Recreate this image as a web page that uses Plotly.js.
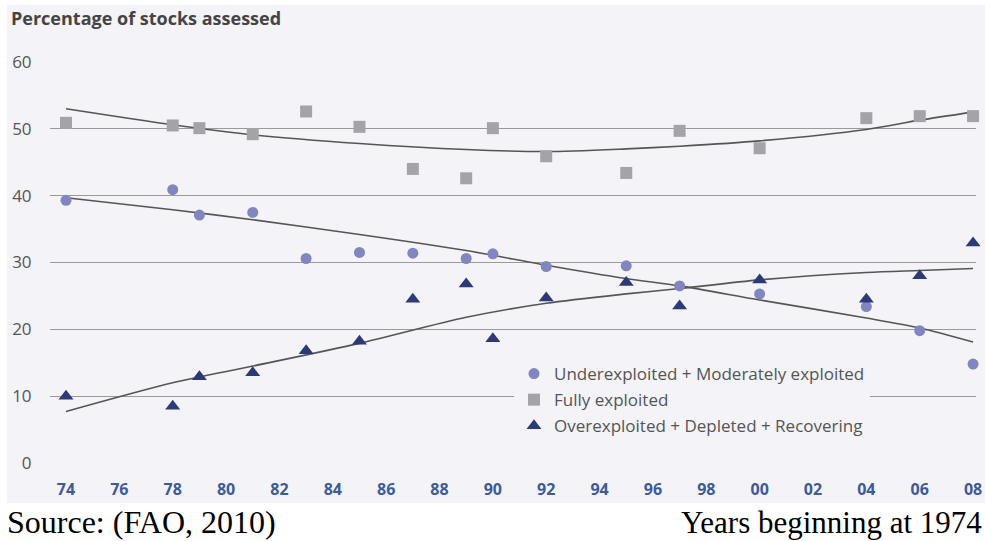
<!DOCTYPE html>
<html>
<head>
<meta charset="utf-8">
<script src="https://cdn.plot.ly/plotly-3.0.1.min.js"></script>
<style>html,body{margin:0;padding:0;background:#fff;}#chart{width:985px;height:541px;}</style>
</head>
<body>
<div id="chart"></div>
<script>
// ---- data ----
const yearsUnder = [1974, 1978, 1979, 1981, 1983, 1985, 1987, 1989, 1990, 1992, 1995, 1997, 2000, 2004, 2006, 2008];
const underValues = [39.3, 40.9, 37.1, 37.5, 30.6, 31.5, 31.4, 30.6, 31.3, 29.4, 29.5, 26.5, 25.3, 23.4, 19.8, 14.8];

const yearsFully = [1974, 1978, 1979, 1981, 1983, 1985, 1987, 1989, 1990, 1992, 1995, 1997, 2000, 2004, 2006, 2008];
const fullyValues = [50.9, 50.5, 50.1, 49.2, 52.6, 50.3, 44.0, 42.6, 50.1, 45.9, 43.4, 49.7, 47.1, 51.6, 51.9, 51.9];

const yearsOver = [1974, 1978, 1979, 1981, 1983, 1985, 1987, 1989, 1990, 1992, 1995, 1997, 2000, 2004, 2006, 2008];
const overValues = [10.0, 8.5, 12.9, 13.5, 16.8, 18.2, 24.5, 26.8, 18.6, 24.7, 27.0, 23.5, 27.4, 24.5, 28.0, 32.9];

// trend lines as drawn in the reference
const trendYears = [1974, 1978, 1981, 1985, 1989, 1992, 1995, 1997, 2000, 2004, 2006, 2008];
const trendUnder = [39.7, 37.9, 36.4, 34.2, 31.8, 29.6, 27.6, 26.5, 24.4, 21.7, 20.2, 18.1];
const trendFully = [53.0, 50.6, 49.1, 47.8, 46.9, 46.6, 47.0, 47.4, 48.2, 49.9, 51.3, 52.5];
const trendOver  = [7.7, 12.0, 14.5, 17.9, 21.8, 23.9, 25.3, 26.1, 27.4, 28.5, 28.8, 29.1];

const xTickVals = [1974, 1976, 1978, 1980, 1982, 1984, 1986, 1988, 1990, 1992, 1994, 1996, 1998, 2000, 2002, 2004, 2006, 2008];
const xTickText = ['74','76','78','80','82','84','86','88','90','92','94','96','98','00','02','04','06','08'];
const yTickVals = [0, 10, 20, 30, 40, 50, 60];

const seriesNames = ['Underexploited + Moderately exploited', 'Fully exploited', 'Overexploited + Depleted + Recovering'];

// ---- styling ----
const W = 985, H = 541;
const M = {l: 50, r: 9, t: 62, b: 78};
const pw = W - M.l - M.r, ph = H - M.t - M.b;
const px = x => (x - M.l) / pw;
const py = y => (H - M.b - y) / ph;
const bg = '#f3f3f8';
const trendLine = {color: '#555555', width: 1.6, shape: 'spline', smoothing: 0.8};

const traces = [
  {x: trendYears, y: trendFully, mode: 'lines', line: trendLine, showlegend: false, hoverinfo: 'skip'},
  {x: trendYears, y: trendUnder, mode: 'lines', line: trendLine, showlegend: false, hoverinfo: 'skip'},
  {x: trendYears, y: trendOver, mode: 'lines', line: trendLine, showlegend: false, hoverinfo: 'skip'},
  {x: yearsUnder, y: underValues, mode: 'markers', name: seriesNames[0], legendgroup: 'a', legendrank: 1,
   marker: {symbol: 'circle', size: 11, color: '#8087c0'}},
  {x: yearsFully, y: fullyValues, mode: 'markers', name: seriesNames[1], legendgroup: 'b', legendrank: 2,
   marker: {symbol: 'square', size: 12, color: '#a4a4a8'}},
  {x: yearsOver, y: overValues, mode: 'markers', name: seriesNames[2], legendgroup: 'c', legendrank: 3,
   marker: {symbol: 'triangle-up', size: 13, color: '#2c3b78'}}
];
traces.forEach(t => t.cliponaxis = false);

const layout = {
  width: W, height: H,
  margin: M,
  paper_bgcolor: '#ffffff',
  plot_bgcolor: bg,
  font: {family: 'Open Sans, sans-serif', color: '#555'},
  title: {text: '<b>Percentage of stocks assessed</b>', x: 11 / W, xanchor: 'left', xref: 'container',
          y: 1 - 19 / H, yanchor: 'middle', yref: 'container',
          font: {family: 'Open Sans, sans-serif', size: 18, color: '#444'}},
  xaxis: {
    range: [1973.4, 2008.11], tickvals: xTickVals, ticktext: xTickText,
    showgrid: false, zeroline: false, showline: false,
    ticks: 'outside', ticklen: 12, tickcolor: 'rgba(0,0,0,0)',
    tickfont: {family: 'Open Sans, sans-serif', size: 16, color: '#3d5a99', weight: 'bold'}
  },
  yaxis: {
    range: [0, 60], tickvals: yTickVals,
    showgrid: true, gridcolor: '#9a9a9a', gridwidth: 1,
    zeroline: false, showline: false,
    ticks: 'outside', ticklen: 14, tickcolor: 'rgba(0,0,0,0)',
    tickfont: {family: 'Open Sans, sans-serif', size: 17, color: '#555'}
  },
  legend: {
    x: px(514), y: py(356), xanchor: 'left', yanchor: 'top',
    bgcolor: bg, borderwidth: 0,
    traceorder: 'grouped', tracegroupgap: 1,
    font: {family: 'Open Sans, sans-serif', size: 17, color: '#555'}
  },
  shapes: [
    {type: 'rect', xref: 'paper', yref: 'paper', layer: 'below',
     x0: px(7), x1: px(985), y0: py(503), y1: py(5), fillcolor: bg, line: {width: 0}}
  ],
  annotations: [
    {text: 'Source: (FAO, 2010)', xref: 'paper', yref: 'paper', x: px(5), y: py(522),
     xanchor: 'left', yanchor: 'middle', showarrow: false,
     font: {family: 'Liberation Serif, Times New Roman, serif', size: 32, color: '#000'}},
    {text: 'Years beginning at 1974', xref: 'paper', yref: 'paper', x: px(984), y: py(522),
     xanchor: 'right', yanchor: 'middle', showarrow: false,
     font: {family: 'Liberation Serif, Times New Roman, serif', size: 31, color: '#000'}}
  ],
  hovermode: false
};

Plotly.newPlot('chart', traces, layout, {displayModeBar: false, staticPlot: true});
</script>
</body>
</html>
